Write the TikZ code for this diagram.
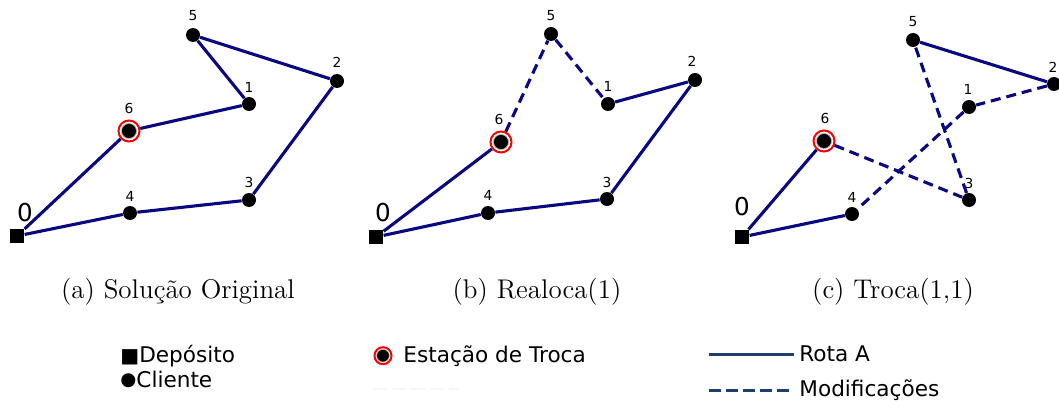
\documentclass[tikz,border=0pt]{standalone}
\usepackage{fontspec}
\newfontfamily\dv{DejaVu Sans}
\definecolor{route}{RGB}{8,8,128}
\definecolor{legline}{RGB}{30,62,112}
\tikzset{
  cli/.style={circle,fill=black,inner sep=0pt,minimum size=7pt},
  depot/.style={rectangle,fill=black,inner sep=0pt,minimum size=7.2pt},
  station/.style={circle,draw=red,line width=1pt,fill=white,inner sep=0pt,minimum size=10.5pt,
    label={[circle,fill=black,draw=gray!60,line width=0.3pt,inner sep=0pt,minimum size=7.5pt]center:{}}},
  num/.style={font=\dv\fontsize{6.9}{8}\selectfont,inner sep=0pt},
  zero/.style={font=\dv\fontsize{12.3}{14}\selectfont,inner sep=0pt},
  rt/.style={draw=route,line width=1.55pt},
  md/.style={draw=route,line width=1.55pt,dash pattern=on 5pt off 3pt},
  captxt/.style={font=\fontsize{13.5}{16}\selectfont,anchor=base,inner sep=0pt},
  leg/.style={font=\dv\fontsize{10.8}{13}\selectfont,anchor=base west,inner sep=0pt},
}
\begin{document}
\begin{tikzpicture}[x=0.5pt,y=-0.5pt]
\useasboundingbox (0,0) rectangle (1059,401);
% ---------- panel (a)
\node[depot] (a0) at (17,236) {};
\node[cli] (a1) at (249,104) {};
\node[cli] (a2) at (337,81) {};
\node[cli] (a3) at (249,200) {};
\node[cli] (a4) at (130,213) {};
\node[cli] (a5) at (193,35) {};
\node[station] (a6) at (129,131) {};
\node[zero] (la0) at (25,213) {0};
\node[num] (la1) at (249,87) {1};
\node[num] (la2) at (337,62) {2};
\node[num] (la3) at (249,182) {3};
\node[num] (la4) at (130,196) {4};
\node[num] (la5) at (193,16) {5};
\node[num] (la6) at (129,108) {6};
\draw[rt] (a0) -- (a6);
\draw[rt] (a6) -- (a1);
\draw[rt] (a1) -- (a5);
\draw[rt] (a5) -- (a2);
\draw[rt] (a2) -- (a3);
\draw[rt] (a3) -- (a4);
\draw[rt] (a4) -- (a0);
\node[captxt] (capa) at (178,298) {(a) Solução Original};
% ---------- panel (b)
\node[depot] (b0) at (376,237) {};
\node[cli] (b1) at (608,104) {};
\node[cli] (b2) at (695,80) {};
\node[cli] (b3) at (607,199) {};
\node[cli] (b4) at (488,213) {};
\node[cli] (b5) at (551,34) {};
\node[station] (b6) at (501,142) {};
\node[zero] (lb0) at (383,213) {0};
\node[num] (lb1) at (608,86) {1};
\node[num] (lb2) at (692,61) {2};
\node[num] (lb3) at (607,182) {3};
\node[num] (lb4) at (488,195) {4};
\node[num] (lb5) at (551,16) {5};
\node[num] (lb6) at (499,119) {6};
\draw[rt] (b0) -- (b6);
\draw[md] (b6) -- (b5);
\draw[md] (b5) -- (b1);
\draw[rt] (b1) -- (b2);
\draw[rt] (b2) -- (b3);
\draw[rt] (b3) -- (b4);
\draw[rt] (b4) -- (b0);
\node[captxt] (capb) at (537,298) {(b) Realoca(1)};
% ---------- panel (c)
\node[depot] (c0) at (742,237) {};
\node[cli] (c1) at (969,107) {};
\node[cli] (c2) at (1054,84) {};
\node[cli] (c3) at (969,200) {};
\node[cli] (c4) at (852,214) {};
\node[cli] (c5) at (913,40) {};
\node[station] (c6) at (824,141) {};
\node[zero] (lc0) at (742,207) {0};
\node[num] (lc1) at (968,89) {1};
\node[num] (lc2) at (1053,67) {2};
\node[num] (lc3) at (969,183) {3};
\node[num] (lc4) at (852,197) {4};
\node[num] (lc5) at (913,22) {5};
\node[num] (lc6) at (825,118) {6};
\draw[rt] (c0) -- (c6);
\draw[md] (c6) -- (c3);
\draw[md] (c3) -- (c5);
\draw[rt] (c5) -- (c2);
\draw[md] (c2) -- (c1);
\draw[md] (c1) -- (c4);
\draw[rt] (c4) -- (c0);
\node[captxt] (capc) at (893,298) {(c) Troca(1,1)};
% ---------- legend
\node[leg] (ldep) at (120,362.7) {{\fontsize{10}{12}\selectfont■}Depósito};
\node[leg] (lcli) at (120,387.5) {\raisebox{0.9pt}{\fontsize{9.2}{12}\selectfont●}Cliente};
\node[circle,draw=red,line width=1pt,fill=white,inner sep=0pt,minimum size=8.5pt] (lring) at (383,355.7) {};
\node[circle,fill=black,draw=gray!60,line width=0.3pt,inner sep=0pt,minimum size=6.3pt] (ldot) at (lring.center) {};
\node[leg] (lest) at (403,362.7) {Estação de Troca};
\coordinate (g1) at (373,389);
\coordinate (g2) at (459,389);
\draw[draw=gray!35,double=gray!6,line width=0.3pt,double distance=0.7pt,dash pattern=on 7pt off 2.5pt] (g1) -- (g2);
\coordinate (r1) at (709,354);
\coordinate (r2) at (794,354);
\draw[draw=legline,line width=1.5pt] (r1) -- (r2);
\node[leg] (lrota) at (799,361.7) {Rota A};
\coordinate (m1) at (709,390.5);
\coordinate (m2) at (792,390.5);
\draw[draw=legline,line width=1.5pt,dash pattern=on 6pt off 2.5pt] (m1) -- (m2);
\node[leg] (lmod) at (799,396.5) {Modificações};
\end{tikzpicture}
\end{document}
